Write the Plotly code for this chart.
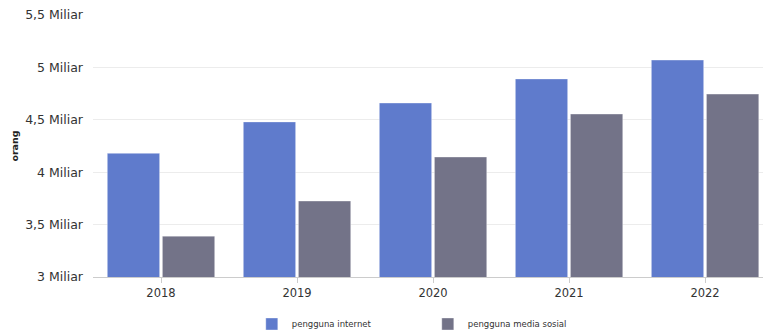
import plotly.graph_objects as go

years = ["2018", "2019", "2020", "2021", "2022"]
internet_users = [4.18, 4.48, 4.66, 4.89, 5.07]
social_users = [3.39, 3.725, 4.145, 4.555, 4.745]
tick_vals = [3, 3.5, 4, 4.5, 5, 5.5]
tick_text = ["3 Miliar", "3,5 Miliar", "4 Miliar", "4,5 Miliar", "5 Miliar", "5,5 Miliar"]

fig = go.Figure()
fig.add_trace(go.Bar(x=years, y=internet_users, name="pengguna internet",
                     marker=dict(color="#5f7bcc", line=dict(color="rgba(255,255,255,0.35)", width=1))))
fig.add_trace(go.Bar(x=years, y=social_users, name="pengguna media sosial",
                     marker=dict(color="#737388", line=dict(color="rgba(255,255,255,0.35)", width=1))))

fig.update_layout(
    width=763, height=333,
    margin=dict(l=93, r=0, t=15, b=56, autoexpand=False),
    paper_bgcolor="white", plot_bgcolor="white",
    font=dict(family="DejaVu Sans, Verdana, sans-serif", color="#333333", size=11),
    barmode="group", bargap=0.19, bargroupgap=0.05,
    showlegend=True,
    legend=dict(orientation="h", x=0.237, xanchor="left", y=-0.124, yanchor="top",
                font=dict(size=8.5, color="#333333"), entrywidth=131, entrywidthmode="pixels",
                traceorder="normal"),
    xaxis=dict(range=[-0.5, 4.426], showline=True, linecolor="#cccccc", linewidth=1,
               ticks="outside", ticklen=5, tickcolor="#cccccc", showgrid=False,
               tickfont=dict(size=11.5, color="#333333")),
    yaxis=dict(range=[3, 5.5], tickvals=tick_vals, ticktext=tick_text, showgrid=True,
               gridcolor="#ececec", gridwidth=1, zeroline=False, ticklabelstandoff=9,
               tickfont=dict(size=12.5, color="#333333"),
               title=dict(text="<b>orang</b>", font=dict(size=9.5, color="#222222"), standoff=4)),
)

fig.write_html("out.html")
